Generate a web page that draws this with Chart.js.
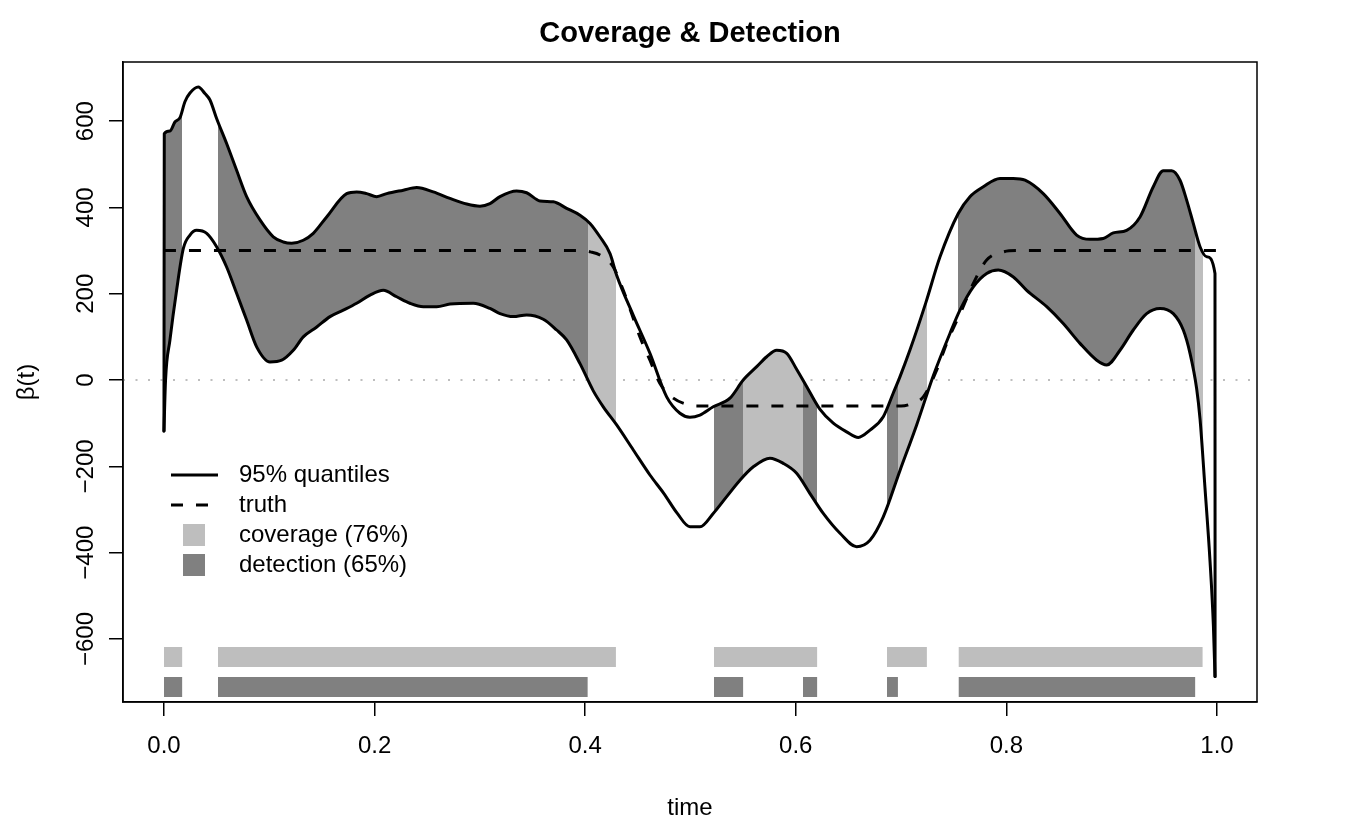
<!DOCTYPE html>
<html><head><meta charset="utf-8">
<script src="https://cdn.jsdelivr.net/npm/chart.js@4.4.1/dist/chart.umd.min.js"></script>
<style>html,body{margin:0;padding:0;background:#fff;}canvas{display:block;}</style>
</head><body>
<canvas id="c" width="1350" height="825"></canvas>
<script>
// ---------- data ----------
const xTicks = [0, 0.2, 0.4, 0.6, 0.8, 1.0];
const yTicks = [-600, -400, -200, 0, 200, 400, 600];

const upperTime = [0, 0.0003, 0.0057, 0.0104, 0.0152, 0.0199, 0.0247, 0.0326, 0.0389, 0.0437, 0.05, 0.0595, 0.069, 0.0785, 0.0912, 0.1038, 0.1133, 0.1213, 0.1323, 0.1418, 0.1545, 0.1735, 0.183, 0.1925, 0.202, 0.2115, 0.2273, 0.24, 0.2557, 0.2716, 0.2875, 0.3001, 0.3096, 0.3191, 0.3349, 0.3444, 0.3571, 0.3697, 0.3824, 0.3951, 0.4046, 0.414, 0.4236, 0.4299, 0.4457, 0.4615, 0.4774, 0.49, 0.4995, 0.509, 0.5216, 0.5375, 0.5501, 0.5629, 0.5724, 0.5819, 0.5914, 0.6008, 0.6103, 0.623, 0.6356, 0.6483, 0.6594, 0.6705, 0.6831, 0.6926, 0.699, 0.7085, 0.7236, 0.7369, 0.7543, 0.7654, 0.7781, 0.7939, 0.8066, 0.8177, 0.835, 0.8509, 0.8667, 0.8794, 0.892, 0.9015, 0.9142, 0.9269, 0.9395, 0.949, 0.957, 0.9649, 0.9712, 0.9775, 0.9839, 0.9902, 0.9981, 0.9982];
const upperQuantile = [-118, 571, 577, 598, 608, 645, 665, 679, 664, 649, 606, 548, 486, 425, 371, 332, 320, 317, 324, 340, 378, 432, 436, 432, 425, 432, 440, 446, 436, 421, 408, 403, 409, 425, 438, 434, 415, 413, 398, 382, 363, 332, 293, 243, 150, 62, -39, -77, -86, -81, -62, -42, 0, 31, 54, 69, 62, 25, -15, -68, -100, -120, -133, -116, -85, -30, 8, 70, 180, 285, 386, 425, 448, 467, 467, 463, 432, 386, 336, 326, 328, 341, 347, 378, 448, 485, 485, 463, 417, 363, 309, 286, 247, -687];

const lowerTime = [0, 0.0015, 0.0057, 0.012, 0.0184, 0.0247, 0.031, 0.0406, 0.05, 0.0595, 0.069, 0.0785, 0.088, 0.1007, 0.1118, 0.1228, 0.1323, 0.1451, 0.1577, 0.1703, 0.183, 0.1957, 0.2083, 0.221, 0.2336, 0.2463, 0.259, 0.2716, 0.2937, 0.3096, 0.3191, 0.3317, 0.3444, 0.3602, 0.3729, 0.3824, 0.3951, 0.4077, 0.4172, 0.4299, 0.4457, 0.4615, 0.4748, 0.4875, 0.4995, 0.509, 0.5216, 0.5344, 0.547, 0.5597, 0.5755, 0.5881, 0.6008, 0.6135, 0.6261, 0.642, 0.6578, 0.6705, 0.6831, 0.6989, 0.7148, 0.7306, 0.7464, 0.7559, 0.7686, 0.7813, 0.7923, 0.8066, 0.8193, 0.8383, 0.854, 0.8699, 0.8858, 0.8953, 0.9079, 0.9205, 0.9332, 0.9459, 0.9585, 0.968, 0.9744, 0.9807, 0.9839, 0.9886, 0.9934, 0.9966, 0.9981];
const lowerQuantile = [-118, 0, 93, 208, 305, 336, 347, 340, 309, 262, 201, 139, 77, 42, 46, 69, 100, 123, 147, 162, 178, 197, 208, 193, 178, 170, 170, 176, 178, 166, 154, 147, 151, 141, 116, 93, 38, -25, -62, -104, -162, -220, -263, -309, -340, -340, -309, -270, -232, -201, -181, -193, -216, -263, -309, -355, -386, -371, -317, -210, -104, 10, 108, 162, 216, 247, 255, 239, 208, 170, 131, 85, 46, 35, 69, 116, 154, 166, 154, 116, 62, -20, -90, -250, -420, -570, -687];

const truthTime = [0, 0.395, 0.405, 0.414, 0.4267, 0.4362, 0.4441, 0.452, 0.4615, 0.471, 0.4837, 0.495, 0.5059, 0.70, 0.7085, 0.7211, 0.7338, 0.7433, 0.759, 0.7686, 0.7813, 0.797, 0.81, 1.0];
const truthValue = [300, 300, 297, 290, 262, 208, 154, 100, 46, -8, -42, -55, -60, -60, -56, -39, 23, 85, 170, 224, 278, 297, 300, 300];

const coverageStart = [0, 0.0513, 0.5223, 0.6866, 0.7545];
const coverageEnd   = [0.0175, 0.4292, 0.6205, 0.7245, 0.9865];
const detectionStart = [0, 0.0513, 0.5223, 0.6068, 0.6866, 0.7545];
const detectionEnd   = [0.0175, 0.4025, 0.5502, 0.6205, 0.697, 0.9795];

const legendLabels = ['95% quantiles', 'truth', 'coverage (76%)', 'detection (65%)'];
const TITLE = 'Coverage & Detection';
const X_LABEL = 'time';
const Y_LABEL = '\u03B2(t)';

// ---------- style / layout ----------
const FONT = "'Liberation Sans', Arial, Helvetica, sans-serif";
const LIGHT = '#bebebe';
const DARK = '#808080';
const X_MIN = -0.0389, X_MAX = 1.038;
const Y_MIN = -746, Y_MAX = 737;
const COV_ROW = [-618.5, -664.8];
const DET_ROW = [-688, -734.3];

const pts = (ts, vs) => ts.map((t, i) => ({x: t, y: vs[i]}));
const datasets = [];
const base = {type: 'line', pointRadius: 0, pointHoverRadius: 0, tension: 0, fill: false};
const smooth = {cubicInterpolationMode: 'monotone'};
const clearBorder = {borderColor: 'rgba(0,0,0,0)', borderWidth: 1};

function intervalGradient(starts, ends, color) {
  return (ctx) => {
    const chart = ctx.chart, area = chart.chartArea;
    if (!area) return color;
    const xs = chart.scales.x;
    const w = area.right - area.left;
    const clear = 'rgba(255,255,255,0)';
    const g = chart.ctx.createLinearGradient(area.left, 0, area.right, 0);
    const cl = v => Math.min(1, Math.max(0, v));
    g.addColorStop(0, clear);
    starts.forEach((s, i) => {
      const a = cl((xs.getPixelForValue(s) - area.left) / w);
      const b = cl((xs.getPixelForValue(ends[i]) - area.left) / w);
      g.addColorStop(a, clear); g.addColorStop(a, color);
      g.addColorStop(b, color); g.addColorStop(b, clear);
    });
    g.addColorStop(1, clear);
    return g;
  };
}

// quantile lines + truth (on top)
datasets.push({...base, ...smooth, label: 'upper', data: pts(upperTime, upperQuantile), borderColor: '#000', borderWidth: 3, borderJoinStyle: 'round', borderCapStyle: 'round', order: 0});
datasets.push({...base, ...smooth, label: 'lower', data: pts(lowerTime, lowerQuantile), borderColor: '#000', borderWidth: 3, borderJoinStyle: 'round', borderCapStyle: 'round', order: 0});
datasets.push({...base, ...smooth, label: 'truth', data: pts(truthTime, truthValue), borderColor: '#000', borderWidth: 3, borderDash: [12, 13], borderCapStyle: 'butt', order: 0});
// zero reference line
datasets.push({...base, label: 'zero', data: [{x: X_MIN, y: 0}, {x: X_MAX, y: 0}], borderColor: LIGHT, borderWidth: 2, borderDash: [2, 10.5], order: 1});

// band fills (coverage under detection)
function addBand(starts, ends, color, order) {
  const idx = datasets.length;
  datasets.push({...base, ...smooth, ...clearBorder, label: 'bandU', data: pts(upperTime, upperQuantile), fill: {target: idx + 1}, backgroundColor: intervalGradient(starts, ends, color), order});
  datasets.push({...base, ...smooth, ...clearBorder, label: 'bandL', data: pts(lowerTime, lowerQuantile), order});
}
addBand(coverageStart, coverageEnd, LIGHT, 6);
addBand(detectionStart, detectionEnd, DARK, 5);

// strips at the bottom
function addStrip(starts, ends, row, color) {
  starts.forEach((s, i) => {
    const idx = datasets.length;
    datasets.push({...base, ...clearBorder, label: 'stripTop', data: [{x: s, y: row[0]}, {x: ends[i], y: row[0]}], fill: {target: idx + 1}, backgroundColor: color, order: 4});
    datasets.push({...base, ...clearBorder, label: 'stripBot', data: [{x: s, y: row[1]}, {x: ends[i], y: row[1]}], order: 4});
  });
}
addStrip(coverageStart, coverageEnd, COV_ROW, LIGHT);
addStrip(detectionStart, detectionEnd, DET_ROW, DARK);

const fmtY = v => (v < 0 ? '\u2212' + Math.abs(v) : String(v));

const decor = {
  id: 'decor',
  afterDraw(chart) {
    const {ctx, chartArea: a, scales: {y}} = chart;
    ctx.save();
    ctx.strokeStyle = '#000'; ctx.lineWidth = 1.5;
    ctx.strokeRect(a.left, a.top, a.right - a.left, a.bottom - a.top);
    ctx.fillStyle = '#000';
    ctx.textAlign = 'center'; ctx.textBaseline = 'middle';
    ctx.font = `bold 29px ${FONT}`;
    ctx.fillText(TITLE, (a.left + a.right) / 2, a.top - 28);
    ctx.font = `24px ${FONT}`;
    ctx.fillText(X_LABEL, (a.left + a.right) / 2, a.bottom + 106);
    ctx.save(); ctx.translate(a.left - 96, (a.top + a.bottom) / 2); ctx.rotate(-Math.PI / 2);
    ctx.fillText(Y_LABEL, 0, 0); ctx.restore();
    yTicks.forEach(v => {
      const py = y.getPixelForValue(v);
      ctx.save(); ctx.translate(a.left - 37, py); ctx.rotate(-Math.PI / 2);
      ctx.fillText(fmtY(v), 0, 0); ctx.restore();
    });
    // legend
    const lx = a.left + 48, tx = a.left + 116, ly = 475, dy = 30;
    ctx.textAlign = 'left';
    ctx.strokeStyle = '#000'; ctx.lineWidth = 3;
    ctx.beginPath(); ctx.moveTo(lx, ly); ctx.lineTo(lx + 47, ly); ctx.stroke();
    ctx.setLineDash([12, 13]);
    ctx.beginPath(); ctx.moveTo(lx, ly + dy); ctx.lineTo(lx + 47, ly + dy); ctx.stroke();
    ctx.setLineDash([]);
    ctx.fillStyle = LIGHT; ctx.fillRect(lx + 12, ly + 2 * dy - 11, 22, 22);
    ctx.fillStyle = DARK; ctx.fillRect(lx + 12, ly + 3 * dy - 11, 22, 22);
    ctx.fillStyle = '#000';
    legendLabels.forEach((t, i) => ctx.fillText(t, tx, ly + i * dy));
    ctx.restore();
  }
};

Chart.defaults.font.family = FONT;
Chart.defaults.color = '#000';

new Chart(document.getElementById('c'), {
  type: 'line',
  data: {datasets},
  options: {
    responsive: false,
    animation: false,
    devicePixelRatio: 1,
    layout: {padding: {left: 0, top: 62, right: 93, bottom: 0}},
    plugins: {legend: {display: false}, title: {display: false}, tooltip: {enabled: false}},
    events: [],
    scales: {
      x: {
        type: 'linear', min: X_MIN, max: X_MAX,
        afterBuildTicks: s => { s.ticks = xTicks.map(v => ({value: v})); },
        afterFit: s => { s.height = 123; },
        grid: {drawOnChartArea: false, drawTicks: true, tickLength: 14, tickColor: '#000', tickWidth: 1.5, color: '#000', lineWidth: 1.5},
        border: {display: true, color: '#000', width: 1.5},
        ticks: {font: {size: 24}, color: '#000', padding: 16, maxRotation: 0, autoSkip: false, callback: v => Number(v).toFixed(1)}
      },
      y: {
        type: 'linear', min: Y_MIN, max: Y_MAX,
        afterBuildTicks: s => { s.ticks = yTicks.map(v => ({value: v})); },
        afterFit: s => { s.width = 123; },
        grid: {drawOnChartArea: false, drawTicks: true, tickLength: 14, tickColor: '#000', tickWidth: 1.5, color: '#000', lineWidth: 1.5},
        border: {display: true, color: '#000', width: 1.5},
        ticks: {display: false}
      }
    }
  },
  plugins: [decor]
});
</script>
</body></html>
